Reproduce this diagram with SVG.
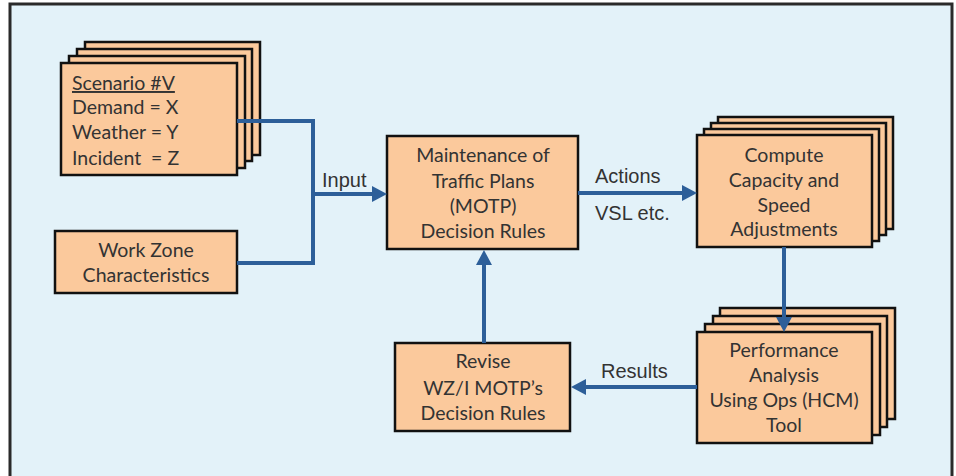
<svg xmlns="http://www.w3.org/2000/svg" width="956" height="476" viewBox="0 0 956 476">
<style>
.bg{fill:#e3f2f9;stroke:#2a2a2a;stroke-width:3}
.box{fill:#fbc99c;stroke:#111;stroke-width:2.5}
.t{font-family:Lato,"Open Sans",sans-serif;font-size:19.5px;fill:#333;text-anchor:middle}
.tl{font-family:Lato,"Open Sans",sans-serif;font-size:19.5px;fill:#333}
.lab{font-family:"Liberation Sans",Arial,sans-serif;font-size:20px;fill:#333}
.c{fill:none;stroke:#2d5f99;stroke-width:4}
</style>
<defs>
<marker id="ah" markerUnits="userSpaceOnUse" markerWidth="16" markerHeight="16" refX="5" refY="8" orient="auto">
<path d="M0,0 L15,8 L0,16 z" fill="#2d5f99"/>
</marker>
</defs>
<rect class="bg" x="10" y="4" width="942" height="490"/>
<g id="scenario">
<rect class="box" x="85" y="42" width="175" height="113"/>
<rect class="box" x="77" y="49" width="175" height="112"/>
<rect class="box" x="69" y="56" width="176" height="112"/>
<rect class="box" x="61" y="63" width="176" height="112"/>
<text class="tl" x="72" y="90" text-decoration="underline">Scenario #V</text>
<text class="tl" x="72" y="114">Demand = X</text>
<text class="tl" x="72" y="139">Weather = Y</text>
<text class="tl" x="72" y="165" xml:space="preserve">Incident  = Z</text>
</g>
<g id="workzone">
<rect class="box" x="55" y="231" width="182" height="62"/>
<text class="t" x="146" y="257">Work Zone</text>
<text class="t" x="146" y="282">Characteristics</text>
</g>
<g id="motp">
<rect class="box" x="387" y="136" width="191" height="113"/>
<text class="t" x="483" y="162">Maintenance of</text>
<text class="t" x="483" y="188">Traffic Plans</text>
<text class="t" x="483" y="213">(MOTP)</text>
<text class="t" x="483" y="238">Decision Rules</text>
</g>
<g id="compute">
<rect class="box" x="718" y="117" width="175" height="112"/>
<rect class="box" x="711" y="123" width="175" height="112"/>
<rect class="box" x="704" y="129" width="175" height="112"/>
<rect class="box" x="697" y="135" width="175" height="112"/>
<text class="t" x="784" y="162">Compute</text>
<text class="t" x="784" y="187">Capacity and</text>
<text class="t" x="784" y="212">Speed</text>
<text class="t" x="784" y="236">Adjustments</text>
</g>
<g id="performance">
<rect class="box" x="720" y="308" width="175" height="111"/>
<rect class="box" x="713" y="316" width="174" height="111"/>
<rect class="box" x="705" y="324" width="175" height="111"/>
<rect class="box" x="697" y="332" width="175" height="111"/>
<text class="t" x="784" y="357">Performance</text>
<text class="t" x="784" y="382">Analysis</text>
<text class="t" x="784" y="407">Using Ops (HCM)</text>
<text class="t" x="784" y="432">Tool</text>
</g>
<g id="revise">
<rect class="box" x="395" y="343" width="175" height="88"/>
<text class="t" x="483" y="368">Revise</text>
<text class="t" x="483" y="395">WZ/I MOTP’s</text>
<text class="t" x="483" y="420">Decision Rules</text>
</g>
<g id="connectors">
<path class="c" d="M237,121 H313 V263 H237"/>
<path class="c" d="M313,194 H377" marker-end="url(#ah)"/>
<path class="c" d="M578,193 H687" marker-end="url(#ah)"/>
<path class="c" d="M784,247 V322" marker-end="url(#ah)"/>
<path class="c" d="M697,387 H581" marker-end="url(#ah)"/>
<path class="c" d="M484,343 V260" marker-end="url(#ah)"/>
<text class="lab" x="322" y="187">Input</text>
<text class="lab" x="595" y="183">Actions</text>
<text class="lab" x="595" y="220">VSL etc.</text>
<text class="lab" x="601" y="378">Results</text>
</g>
</svg>
